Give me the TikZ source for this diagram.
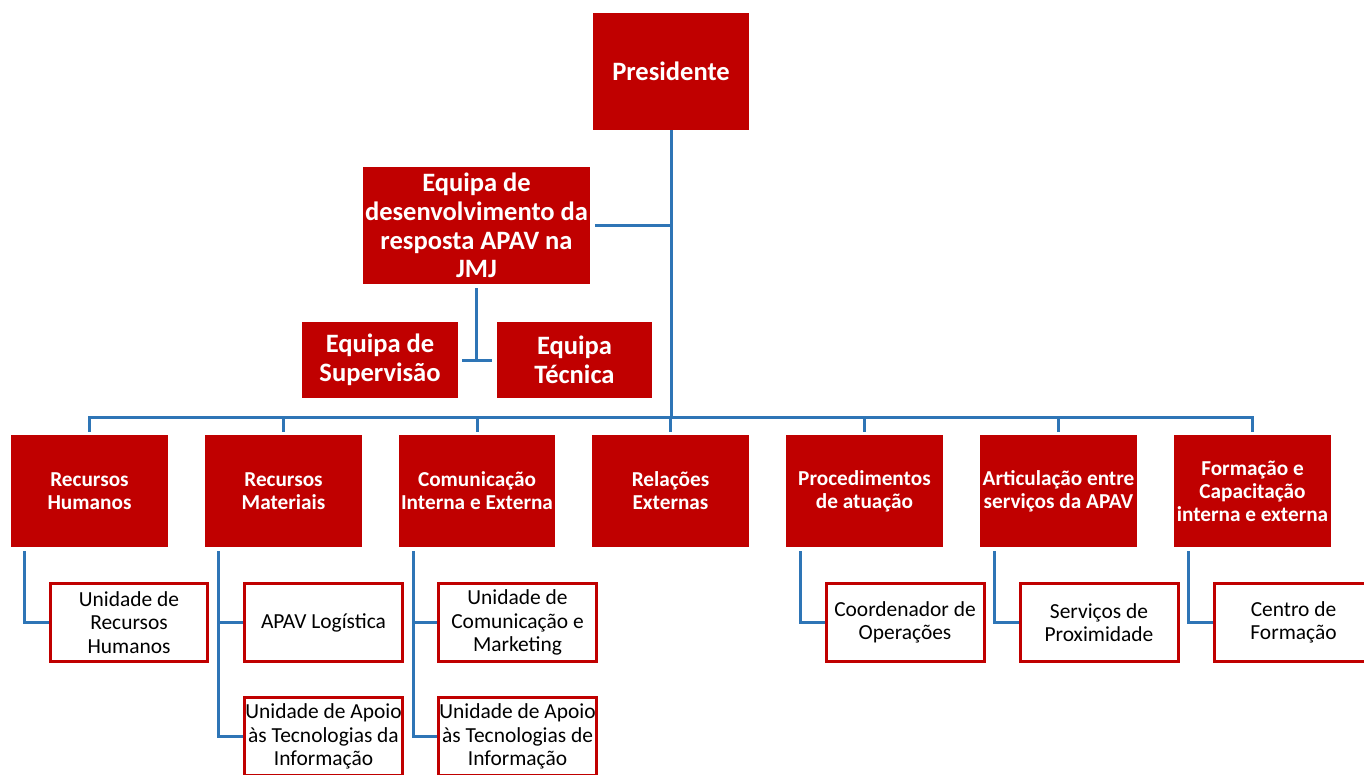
\documentclass[tikz,border=0pt]{standalone}
\usepackage{fontspec}
\setmainfont{Carlito}
\usepackage{tikz}
\definecolor{apavred}{HTML}{C00000}
\definecolor{linkblue}{HTML}{2E75B6}
\tikzset{
	head/.style={fill=apavred, text=white, align=center, inner sep=0pt,
		font=\bfseries\fontsize{15.1}{16.4}\selectfont},
	area/.style={fill=apavred, text=white, align=center, inner sep=0pt,
		minimum width=3.14cm, minimum height=2.24cm,
		font=\bfseries\fontsize{12.1}{13.1}\selectfont},
	unit/.style={draw=apavred, line width=0.06cm, fill=white, align=center, inner sep=0pt,
		minimum width=3.16cm, minimum height=1.56cm,
		font=\fontsize{12.2}{13.3}\selectfont},
	link/.style={draw=linkblue, line width=0.06cm}
}

\begin{document}
\begin{tikzpicture}[x=0.02cm, y=-0.02cm]
	\path[use as bounding box, clip] (0, 0) rectangle (1364, 774);

	% top of the chart
	\node[head, minimum width=3.12cm, minimum height=2.34cm] (pres) at (671, 71.5) {Presidente};
	\node[head, minimum width=4.56cm, minimum height=2.34cm] (jmj) at (476.5, 225.5) {Equipa de\\desenvolvimento da\\resposta APAV na\\JMJ};
	\node[head, minimum width=3.12cm, minimum height=1.52cm] (superv) at (380, 360) {Equipa de\\Supervisão};
	\node[head, minimum width=3.12cm, minimum height=1.52cm] (tecnica) at (574.5, 360) {Equipa\\Técnica};

	% areas
	\node[area] (rh) at (89.5, 491) {Recursos\\Humanos};
	\node[area] (rm) at (283.5, 491) {Recursos\\Materiais};
	\node[area] (com) at (477, 491) {Comunicação\\Interna e Externa};
	\node[area] (rel) at (670.5, 491) {Relações\\Externas};
	\node[area] (proc) at (864.5, 491) {Procedimentos\\de atuação};
	\node[area] (art) at (1058.5, 491) {Articulação entre\\serviços da APAV};
	\node[area] (form) at (1252.5, 491) {Formação e\\Capacitação\\interna e externa};

	% units
	\node[unit] (urh) at (129, 622.5) {Unidade de\\Recursos\\Humanos};
	\node[unit] (logis) at (323.5, 622.5) {APAV Logística};
	\node[unit] (utiA) at (323.5, 736.5) {Unidade de Apoio\\às Tecnologias da\\Informação};
	\node[unit] (ucm) at (517.5, 622.5) {Unidade de\\Comunicação e\\Marketing};
	\node[unit] (utiB) at (517.5, 736.5) {Unidade de Apoio\\às Tecnologias de\\Informação};
	\node[unit] (coord) at (905, 622.5) {Coordenador de\\Operações};
	\node[unit] (serv) at (1099, 622.5) {Serviços de\\Proximidade};
	\node[unit] (centro) at (1293.5, 622.5) {Centro de\\Formação};

	% connectors
	\coordinate (bus) at (0, 417);
	\draw[link] (pres.south) -- (pres.south |- bus);
	\draw[link, shorten <=0.08cm] (jmj.east) -- (jmj.east -| pres.south);
	\draw[link, shorten <=0.08cm] (jmj.south) -- (jmj.south |- superv.east);
	\draw[link, shorten <=0.08cm, shorten >=0.08cm] (superv.east) -- (tecnica.west);
	\draw[link, shorten <=0.06cm, shorten >=0.06cm] (rh.north) -- (rh.north |- bus) -| (form.north);
	\draw[link, shorten <=0.06cm] (rm.north) -- (rm.north |- bus);
	\draw[link, shorten <=0.06cm] (com.north) -- (com.north |- bus);
	\draw[link, shorten <=0.06cm] (rel.north) -- (rel.north |- bus);
	\draw[link, shorten <=0.06cm] (proc.north) -- (proc.north |- bus);
	\draw[link, shorten <=0.06cm] (art.north) -- (art.north |- bus);

	\draw[link, shorten <=0.08cm] ([xshift=0.28cm]rh.south west) |- (urh.west);
	\draw[link, shorten <=0.08cm] ([xshift=0.28cm]rm.south west) |- (utiA.west);
	\draw[link] ([xshift=0.28cm]rm.south west |- logis.west) -- (logis.west);
	\draw[link, shorten <=0.08cm] ([xshift=0.3cm]com.south west) |- (utiB.west);
	\draw[link] ([xshift=0.3cm]com.south west |- ucm.west) -- (ucm.west);
	\draw[link, shorten <=0.08cm] ([xshift=0.3cm]proc.south west) |- (coord.west);
	\draw[link, shorten <=0.08cm] ([xshift=0.3cm]art.south west) |- (serv.west);
	\draw[link, shorten <=0.08cm] ([xshift=0.3cm]form.south west) |- (centro.west);
\end{tikzpicture}
\end{document}
